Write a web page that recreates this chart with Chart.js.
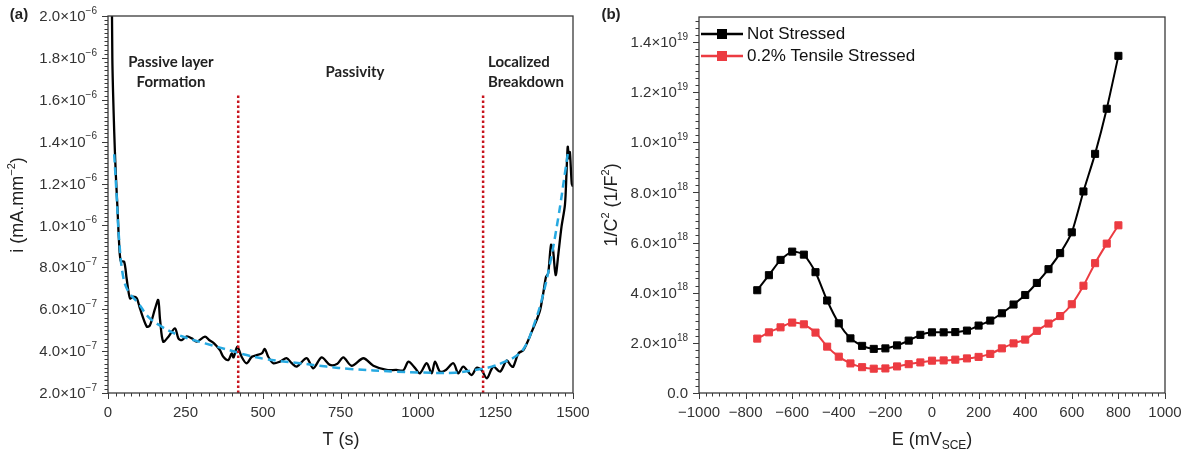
<!DOCTYPE html>
<html>
<head>
<meta charset="utf-8">
<script src="https://cdn.jsdelivr.net/npm/chart.js@4"></script>
<style>
  body { margin: 0; background: #fff; }
  .panel { position: absolute; top: 0; height: 456px; }
  #wrapA { left: 0; width: 595px; }
  #wrapB { left: 595px; width: 596px; }
</style>
</head>
<body>
<div class="panel" id="wrapA"><canvas id="chartA"></canvas></div>
<div class="panel" id="wrapB"><canvas id="chartB"></canvas></div>
<script>
// ---- panel (a): current vs time, values in units of 1e-7 mA.mm^-2
const timeT = [8, 14, 20, 25, 30, 35, 41, 52, 60, 71, 82, 93, 103, 125, 135, 152, 162, 168, 178, 195,
  216, 227, 238, 254, 270, 286, 313, 326, 342, 361, 372, 388, 399, 405, 417, 431, 447, 464, 480, 496,
  506, 517, 533, 555, 576, 593, 609, 641, 662, 689, 716, 740, 759, 786, 824, 856, 899, 930, 953, 969,
  990, 1006, 1028, 1044, 1055, 1071, 1090, 1114, 1130, 1146, 1173, 1189, 1205, 1222, 1243, 1265, 1286, 1300, 1307, 1324,
  1340, 1356, 1367, 1383, 1394, 1404, 1413, 1420, 1429, 1435, 1444, 1453, 1463, 1474, 1479, 1483, 1487, 1490, 1496, 1500];
const currentI = [30, 18, 14.5, 12.5, 11, 9.4, 8.3, 8.27, 7.48, 6.52, 6.6, 6.52, 6.04, 5.17, 5.22, 6.04, 6.44, 5.49, 4.45, 4.69,
  5.09, 4.61, 4.53, 4.7, 4.61, 4.45, 4.69, 4.53, 4.37, 4.05, 3.73, 3.57, 3.89, 3.7, 4.21, 3.73, 3.42, 3.73, 3.81, 3.89,
  4.1, 3.73, 3.42, 3.5, 3.66, 3.42, 3.26, 3.66, 3.18, 3.7, 3.34, 3.4, 3.7, 3.3, 3.66, 3.3, 3.1, 3.1, 3.08, 3.5,
  3.2, 2.94, 3.42, 2.94, 3.5, 3.02, 3.1, 3.42, 2.94, 3.26, 2.86, 3.2, 3.1, 2.7, 3.26, 3.02, 3.55, 3.3, 3.25, 3.89,
  4.05, 4.53, 4.93, 5.49, 5.96, 6.76, 7.55, 7.71, 9.07, 8.9, 7.63, 8.67, 9.94, 10.98, 12.49, 13.76, 13.2, 13.5, 12.0, 11.85];
const fitT = [20, 28, 36, 49, 66, 98, 130, 173, 227, 313, 410, 447, 512, 619, 705, 781, 931, 1000, 1119, 1184,
  1238, 1281, 1320, 1345, 1372, 1399, 1426, 1453, 1474, 1485];
const fitI = [13.4, 11.4, 9.3, 7.55, 6.84, 6.28, 5.64, 5.17, 4.77, 4.37, 3.97, 3.81, 3.61, 3.42, 3.26, 3.15, 3.02, 2.98, 2.97, 3.1,
  3.26, 3.5, 3.8, 4.21, 5.17, 6.44, 8.19, 10.42, 12.49, 13.6];
const regionBounds = [420, 1210];
const regionTop = 16.2;
const tTicks = [0, 250, 500, 750, 1000, 1250, 1500];
const iTicks = [2, 4, 6, 8, 10, 12, 14, 16, 18, 20];

// ---- panel (b): Mott-Schottky, values in units of 1e18 F^-2
const potentialE = [-750, -700, -650, -600, -550, -500, -450, -400, -350, -300, -250, -200, -150, -100, -50, 0,
  50, 100, 150, 200, 250, 300, 350, 400, 450, 500, 550, 600, 650, 700, 750, 800];
const notStressed = [4.10, 4.70, 5.31, 5.64, 5.52, 4.82, 3.69, 2.78, 2.18, 1.88, 1.76, 1.78, 1.90, 2.09, 2.32, 2.42,
  2.42, 2.43, 2.49, 2.69, 2.89, 3.18, 3.53, 3.91, 4.39, 4.94, 5.58, 6.41, 8.04, 9.54, 11.34, 13.45];
const tensile = [2.17, 2.42, 2.62, 2.81, 2.74, 2.41, 1.85, 1.45, 1.18, 1.03, 0.97, 0.98, 1.06, 1.15, 1.22, 1.29,
  1.30, 1.33, 1.38, 1.44, 1.56, 1.78, 1.98, 2.13, 2.48, 2.77, 3.07, 3.54, 4.28, 5.18, 5.96, 6.69];
const seriesNames = ['Not Stressed', '0.2% Tensile Stressed'];
const eTicks = [-1000, -800, -600, -400, -200, 0, 200, 400, 600, 800, 1000];
const cTicks = [0, 2, 4, 6, 8, 10, 12, 14];

Chart.defaults.font.family = "'Liberation Sans', Arial, sans-serif";
Chart.defaults.color = '#222';
Chart.defaults.animation = false;

// split a value into mantissa text and exponent text, e.g. 2e-7 -> ['2.0×10', '−7']
function sciParts(v) {
  if (Math.abs(v) < 1e-40) return ['0.0', ''];
  const e = Math.floor(Math.log10(Math.abs(v)) + 1e-9);
  const m = v / Math.pow(10, e);
  return [m.toFixed(1) + '\u00D710', String(e).replace('-', '\u2212')];
}
const pts = (xs, ys) => xs.map((x, i) => ({ x: x, y: ys[i] }));
const setTicks = list => s => { s.ticks = list.map(v => ({ value: v })); };

function drawRich(ctx, t) {
  ctx.save();
  ctx.translate(t.x, t.y);
  if (t.rotate) ctx.rotate(t.rotate);
  const fam = t.family || Chart.defaults.font.family;
  const fontOf = p => (t.bold ? 'bold ' : '') + p.size + 'px ' + fam;
  let w = 0;
  for (const p of t.parts) { ctx.font = fontOf(p); w += ctx.measureText(p.text).width; }
  let x = t.align === 'left' ? 0 : t.align === 'right' ? -w : -w / 2;
  ctx.fillStyle = t.color || '#222';
  ctx.textBaseline = 'middle';
  for (const p of t.parts) {
    ctx.font = fontOf(p);
    ctx.fillText(p.text, x, p.dy || 0);
    x += ctx.measureText(p.text).width;
  }
  ctx.restore();
}

function drawTicks(ctx, scale, nMinor, horizontal, a) {
  const majors = scale.ticks.map(t => t.value);
  const minor = (majors[1] - majors[0]) / nMinor;
  const count = Math.floor((scale.max - scale.min) / minor + 1e-6);
  ctx.beginPath();
  for (let k = 0; k <= count; k++) {
    const p = Math.round(scale.getPixelForValue(scale.min + k * minor)) + 0.5;
    const len = k % nMinor === 0 ? 6 : 3.5;
    if (horizontal) { ctx.moveTo(p, a.bottom); ctx.lineTo(p, a.bottom + len); }
    else { ctx.moveTo(a.left, p); ctx.lineTo(a.left - len, p); }
  }
  ctx.stroke();
}

const decor = {
  id: 'decor',
  afterDraw(chart, args, o) {
    const ctx = chart.ctx, a = chart.chartArea;
    ctx.save();
    ctx.strokeStyle = '#3a3a3a';
    ctx.lineWidth = 1.3;
    ctx.strokeRect(a.left, a.top, a.right - a.left, a.bottom - a.top);
    ctx.lineWidth = 1;
    drawTicks(ctx, chart.scales.x, o.xMinor, true, a);
    drawTicks(ctx, chart.scales.y, o.yMinor, false, a);
    // y tick labels with a raised exponent
    const ys = chart.scales.y;
    ys.ticks.forEach(t => {
      const [mant, ex] = sciParts(t.value * o.yUnit);
      const parts = [{ text: mant, size: 15 }];
      if (ex) parts.push({ text: ex, size: 10, dy: -6 });
      drawRich(ctx, { x: a.left - 11, y: ys.getPixelForValue(t.value) + 1, align: 'right', color: '#333', parts: parts });
    });
    (o.texts || []).forEach(t => drawRich(ctx, t));
    if (o.legend) {
      chart.data.datasets.forEach((ds, i) => {
        const y = o.legend.y + i * o.legend.gap;
        const x0 = a.left + 2;
        ctx.strokeStyle = ds.borderColor;
        ctx.lineWidth = 2.5;
        ctx.beginPath(); ctx.moveTo(x0, y); ctx.lineTo(x0 + 42, y); ctx.stroke();
        ctx.fillStyle = ds.borderColor;
        ctx.fillRect(x0 + 16, y - 5, 10, 10);
        drawRich(ctx, { x: x0 + 46, y: y, align: 'left', color: '#111', parts: [{ text: ds.label, size: 17 }] });
      });
    }
    ctx.restore();
  }
};

const tickFont = { size: 15 };
const baseScale = (list, fit, prop, minV, maxV, fmt) => ({
  type: 'linear', min: minV, max: maxV,
  afterBuildTicks: setTicks(list),
  afterFit: s => { s[prop] = fit; },
  grid: { display: false, drawTicks: true, tickLength: 6 },
  border: { display: false },
  ticks: { font: tickFont, color: '#333', padding: 5, maxRotation: 0, autoSkip: false, callback: fmt }
});

new Chart(document.getElementById('chartA'), {
  type: 'line',
  data: {
    datasets: [
      ...regionBounds.map(t => ({
        data: pts([t, t], [2, regionTop]), borderColor: '#c8141e', borderWidth: 2.5,
        borderDash: [2.5, 2.5], pointRadius: 0, order: 0
      })),
      { label: 'fit', data: pts(fitT, fitI), borderColor: '#27a9e1', borderWidth: 2.5, borderDash: [8, 5],
        pointRadius: 0, tension: 0.4, order: 1 },
      { label: 'i', data: pts(timeT, currentI), borderColor: '#000', borderWidth: 2.3,
        pointRadius: 0, tension: 0.3, order: 2 }
    ]
  },
  options: {
    responsive: true, maintainAspectRatio: false, devicePixelRatio: 1, events: [],
    layout: { padding: { top: 16, right: 22, left: 0, bottom: 0 } },
    scales: {
      x: baseScale(tTicks, 63, 'height', 0, 1500, v => String(v)),
      y: baseScale(iTicks, 108, 'width', 2, 20, () => '')
    },
    plugins: {
      legend: { display: false }, tooltip: { enabled: false },
      decor: {
        xMinor: 10, yMinor: 10, yUnit: 1e-7,
        texts: [
          { x: 19, y: 15, bold: true, parts: [{ text: '(a)', size: 15 }] },
          { x: 171, y: 62, bold: true, family: 'Lato', parts: [{ text: 'Passive layer', size: 15 }] },
          { x: 171, y: 82, bold: true, family: 'Lato', parts: [{ text: 'Formation', size: 15 }] },
          { x: 355, y: 72, bold: true, family: 'Lato', parts: [{ text: 'Passivity', size: 15 }] },
          { x: 488, y: 62, bold: true, family: 'Lato', align: 'left', parts: [{ text: 'Localized', size: 15 }] },
          { x: 488, y: 82, bold: true, family: 'Lato', align: 'left', parts: [{ text: 'Breakdown', size: 15 }] },
          { x: 341, y: 440, parts: [{ text: 'T (s)', size: 18 }] },
          { x: 18, y: 205, rotate: -Math.PI / 2,
            parts: [{ text: 'i (mA.mm', size: 18 }, { text: '\u22122', size: 11, dy: -6 }, { text: ')', size: 18 }] }
        ]
      }
    }
  },
  plugins: [decor]
});

new Chart(document.getElementById('chartB'), {
  type: 'line',
  data: {
    datasets: [
      { label: seriesNames[0], data: pts(potentialE, notStressed), borderColor: '#000', backgroundColor: '#000',
        borderWidth: 2, pointStyle: 'rect', pointRadius: 5, pointBorderWidth: 1, tension: 0.2 },
      { label: seriesNames[1], data: pts(potentialE, tensile), borderColor: '#ec3b41', backgroundColor: '#ec3b41',
        borderWidth: 2, pointStyle: 'rect', pointRadius: 5, pointBorderWidth: 1, tension: 0.2 }
    ]
  },
  options: {
    responsive: true, maintainAspectRatio: false, devicePixelRatio: 1, events: [],
    layout: { padding: { top: 17, right: 26, left: 0, bottom: 0 } },
    scales: {
      x: baseScale(eTicks, 63, 'height', -1000, 1000, v => String(v).replace('-', '\u2212')),
      y: baseScale(cTicks, 104, 'width', 0, 15, () => '')
    },
    plugins: {
      legend: { display: false }, tooltip: { enabled: false },
      decor: {
        xMinor: 7, yMinor: 7, yUnit: 1e18,
        legend: { y: 34, gap: 22 },
        texts: [
          { x: 16, y: 15, bold: true, parts: [{ text: '(b)', size: 15 }] },
          { x: 337, y: 440, parts: [{ text: 'E (mV', size: 18 }, { text: 'SCE', size: 12, dy: 6 }, { text: ')', size: 18 }] },
          { x: 17, y: 205, rotate: -Math.PI / 2,
            parts: [{ text: '1/C', size: 18 }, { text: '2', size: 11, dy: -6 }, { text: ' (1/F', size: 18 },
                    { text: '2', size: 11, dy: -6 }, { text: ')', size: 18 }] }
        ]
      }
    }
  },
  plugins: [decor]
});
</script>
</body>
</html>
